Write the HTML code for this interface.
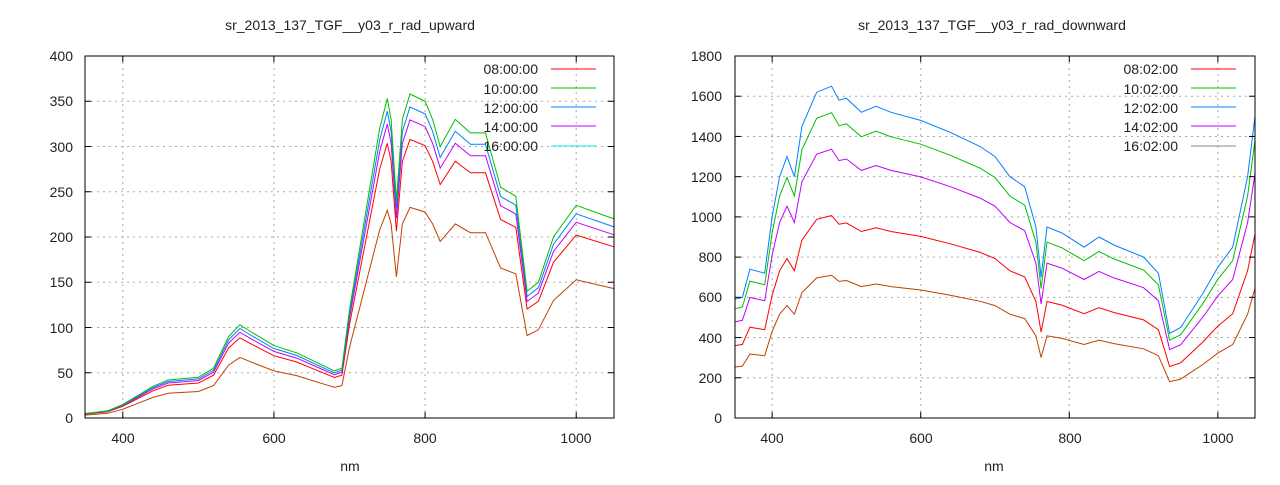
<!DOCTYPE html>
<html><head><meta charset="utf-8"><style>
body{margin:0;background:#fff}
svg text{font-family:"Liberation Sans",sans-serif;font-size:14px;fill:#222}
</style></head><body>
<svg id="s" width="1280" height="480" xmlns="http://www.w3.org/2000/svg">
<g id="grid" stroke="#aaa" stroke-width="1" stroke-dasharray="2,4"></g>
<g id="curves" fill="none" stroke-width="1"></g>
<rect x="85" y="56" width="529" height="362" fill="none" stroke="#000"/>
<rect x="735" y="56" width="520" height="362" fill="none" stroke="#000"/>
<g id="ticks" stroke="#000"></g>
<text x="350" y="30" text-anchor="middle">sr_2013_137_TGF__y03_r_rad_upward</text>
<text x="992" y="30" text-anchor="middle">sr_2013_137_TGF__y03_r_rad_downward</text>
<text x="350" y="471" text-anchor="middle">nm</text>
<text x="994" y="471" text-anchor="middle">nm</text>
<g text-anchor="middle">
<text x="123" y="443">400</text><text x="274" y="443">600</text><text x="425" y="443">800</text><text x="576" y="443">1000</text>
<text x="772" y="443">400</text><text x="921" y="443">600</text><text x="1070" y="443">800</text><text x="1218" y="443">1000</text>
</g>
<g text-anchor="end">
<text x="73" y="423">0</text><text x="73" y="378">50</text><text x="73" y="333">100</text><text x="73" y="287">150</text><text x="73" y="242">200</text><text x="73" y="197">250</text><text x="73" y="152">300</text><text x="73" y="106">350</text><text x="73" y="61">400</text>
<text x="722" y="423">0</text><text x="722" y="383">200</text><text x="722" y="343">400</text><text x="722" y="302">600</text><text x="722" y="262">800</text><text x="722" y="222">1000</text><text x="722" y="182">1200</text><text x="722" y="142">1400</text><text x="722" y="101">1600</text><text x="722" y="61">1800</text>
</g>
<g text-anchor="end">
<text x="538" y="74">08:00:00</text><text x="538" y="94">10:00:00</text><text x="538" y="113">12:00:00</text><text x="538" y="132">14:00:00</text><text x="538" y="151">16:00:00</text>
<text x="1178" y="74">08:02:00</text><text x="1178" y="94">10:02:00</text><text x="1178" y="113">12:02:00</text><text x="1178" y="132">14:02:00</text><text x="1178" y="151">16:02:00</text>
</g>
<g stroke-width="1">
<line x1="551" y1="69" x2="596" y2="69" stroke="#f00"/><line x1="551" y1="88" x2="596" y2="88" stroke="#00c000"/><line x1="551" y1="107" x2="596" y2="107" stroke="#0080ff"/><line x1="551" y1="126" x2="596" y2="126" stroke="#c000ff"/><line x1="551" y1="146" x2="596" y2="146" stroke="#00eeee"/>
<line x1="1191" y1="69" x2="1236" y2="69" stroke="#f00"/><line x1="1191" y1="88" x2="1236" y2="88" stroke="#00c000"/><line x1="1191" y1="107" x2="1236" y2="107" stroke="#0080ff"/><line x1="1191" y1="126" x2="1236" y2="126" stroke="#c000ff"/><line x1="1191" y1="146" x2="1236" y2="146" stroke="#888"/>
</g>
</svg>
<script>
var NS="http://www.w3.org/2000/svg";
function el(p,t,a){var e=document.createElementNS(NS,t);for(var k in a)e.setAttribute(k,a[k]);document.getElementById(p).appendChild(e);}
// grids & ticks
var L={x0:85,x1:614,nm0:350,nm1:1050,y0:418,y1:56,v1:400},R={x0:735,x1:1255,nm0:350,nm1:1050,y0:418,y1:56,v1:1800};
function X(P,n){return P.x0+(n-P.nm0)/(P.nm1-P.nm0)*(P.x1-P.x0);}
function Y(P,v){return P.y0-v/P.v1*(P.y0-P.y1);}
[[L,50],[R,200]].forEach(function(a){var P=a[0];
 [400,600,800,1000].forEach(function(n){var x=X(P,n);el("grid","line",{x1:x,x2:x,y1:P.y1,y2:P.y0});el("ticks","line",{x1:x,x2:x,y1:P.y0,y2:P.y0-6});el("ticks","line",{x1:x,x2:x,y1:P.y1,y2:P.y1+6});});
 for(var v=a[1];v<P.v1;v+=a[1]){var y=Y(P,v);el("grid","line",{x1:P.x0,x2:P.x1,y1:y,y2:y});el("ticks","line",{x1:P.x0,x2:P.x0+6,y1:y,y2:y});el("ticks","line",{x1:P.x1,x2:P.x1-6,y1:y,y2:y});}
});
var up=[[350,5],[380,8],[400,15],[420,25],[440,35],[460,42],[500,45],[520,55],[540,90],[555,103],[570,95],[600,80],[630,72],[660,60],[680,52],[690,55],[700,120],[720,220],[740,320],[750,353],[755,330],[762,240],[770,330],[780,358],[800,350],[810,330],[820,300],[840,330],[860,315],[880,315],[900,255],[920,245],[935,140],[950,150],[970,200],[1000,235],[1050,220]];
var dn=[[350,590],[360,600],[370,740],[390,720],[400,1000],[410,1200],[420,1300],[430,1200],[440,1450],[460,1620],[480,1650],[490,1580],[500,1590],[520,1520],[540,1550],[560,1520],[600,1480],[640,1420],[680,1350],[700,1300],[720,1200],[740,1150],[755,950],[762,700],[770,950],[790,920],[820,850],[840,900],[860,860],[900,800],[920,720],[935,420],[950,450],[980,620],[1000,750],[1020,850],[1040,1200],[1050,1500]];
function draw(P,d,s,c){var p="";d.forEach(function(q,i){p+=(i?"L":"M")+X(P,q[0]).toFixed(1)+","+Y(P,q[1]*s).toFixed(1);});el("curves","path",{d:p,stroke:c});}
draw(L,up,0.65,"#c04000");draw(L,up,0.86,"#f00");draw(L,up,0.92,"#c000ff");draw(L,up,0.96,"#0080ff");draw(L,up,1,"#00c000");
draw(R,dn,0.43,"#c04000");draw(R,dn,0.61,"#f00");draw(R,dn,0.81,"#c000ff");draw(R,dn,0.92,"#00c000");draw(R,dn,1,"#0080ff");
</script>
</body></html>
